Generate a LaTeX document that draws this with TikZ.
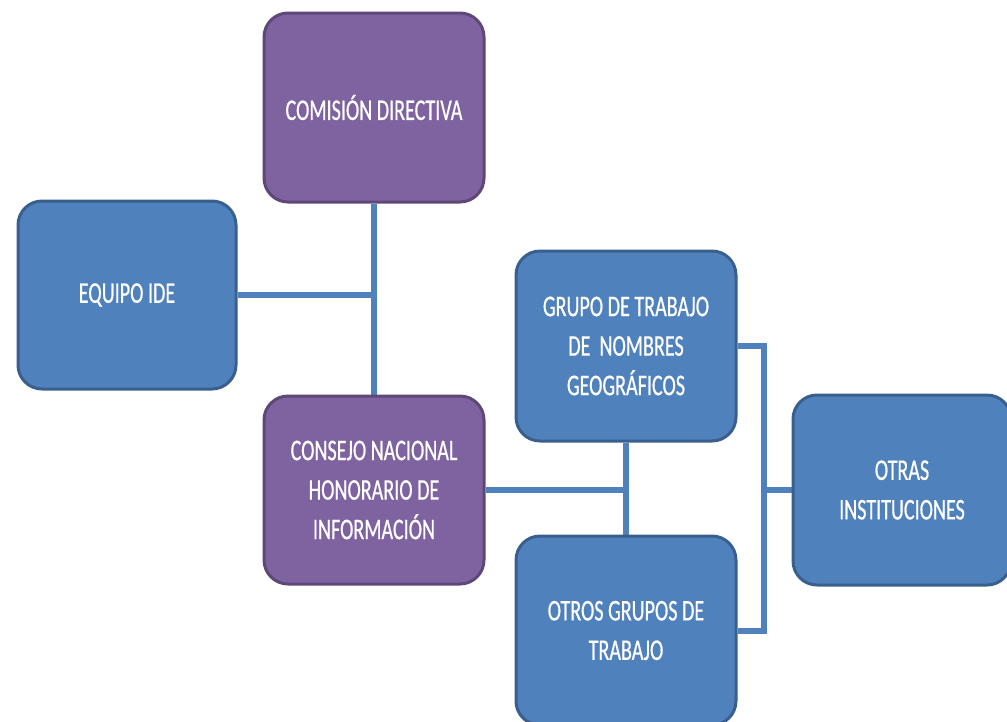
\documentclass[tikz,border=0pt]{standalone}
\usepackage{fontspec}
\setmainfont{Carlito}[FakeStretch=0.67,FakeBold=0.6]
\usetikzlibrary{backgrounds}
\begin{document}
\begin{tikzpicture}[x=1pt,y=-1pt,
  box/.style={rectangle, rounded corners=24pt, line width=3pt, minimum width=220pt, minimum height=189pt,
    align=center, text=white, font=\fontsize{30}{39.5}\selectfont, inner sep=0pt},
  purplebox/.style={box, fill=boxpurple, draw=edgepurple},
  bluebox/.style={box, fill=boxblue, draw=edgeblue},
  link/.style={draw=linkblue, line width=6pt}]
\definecolor{boxpurple}{HTML}{7F62A0}
\definecolor{edgepurple}{HTML}{5D4878}
\definecolor{boxblue}{HTML}{4F81BD}
\definecolor{edgeblue}{HTML}{395F8E}
\definecolor{linkblue}{HTML}{4F81BD}
\useasboundingbox (0,0) rectangle (1007,721);
\clip (0,0) rectangle (1007,721);
\node[purplebox] (com) at (374,107.5) {COMISIÓN DIRECTIVA};
\node[bluebox, minimum width=218pt, minimum height=188pt] (equ) at (127,295) {EQUIPO IDE};
\node[purplebox, minimum height=188pt] (con) at (374,490) {CONSEJO NACIONAL\\HONORARIO DE\\INFORMACIÓN};
\node[bluebox, minimum height=190pt] (grp) at (626,346) {GRUPO DE TRABAJO\\DE\ \ NOMBRES\\GEOGRÁFICOS};
\node[bluebox] (otr) at (626,630.5) {OTROS GRUPOS DE\\TRABAJO};
\node[bluebox, minimum width=218pt, minimum height=190pt] (ins) at (902,490) {OTRAS\\INSTITUCIONES};
\coordinate (jr) at (764,0);
\begin{scope}[on background layer]
\path[link] (com.south) -- (con.north);
\path[link] (equ.east) -- (equ.east -| com.south);
\path[link] (con.east) -- (con.east -| grp.south);
\path[link] (grp.south) -- (otr.north);
\path[link] (grp.east) -- (grp.east -| jr) -- (otr.east -| jr) -- (otr.east);
\path[link] (ins.west) -- (ins.west -| jr);
\end{scope}
\end{tikzpicture}
\end{document}
